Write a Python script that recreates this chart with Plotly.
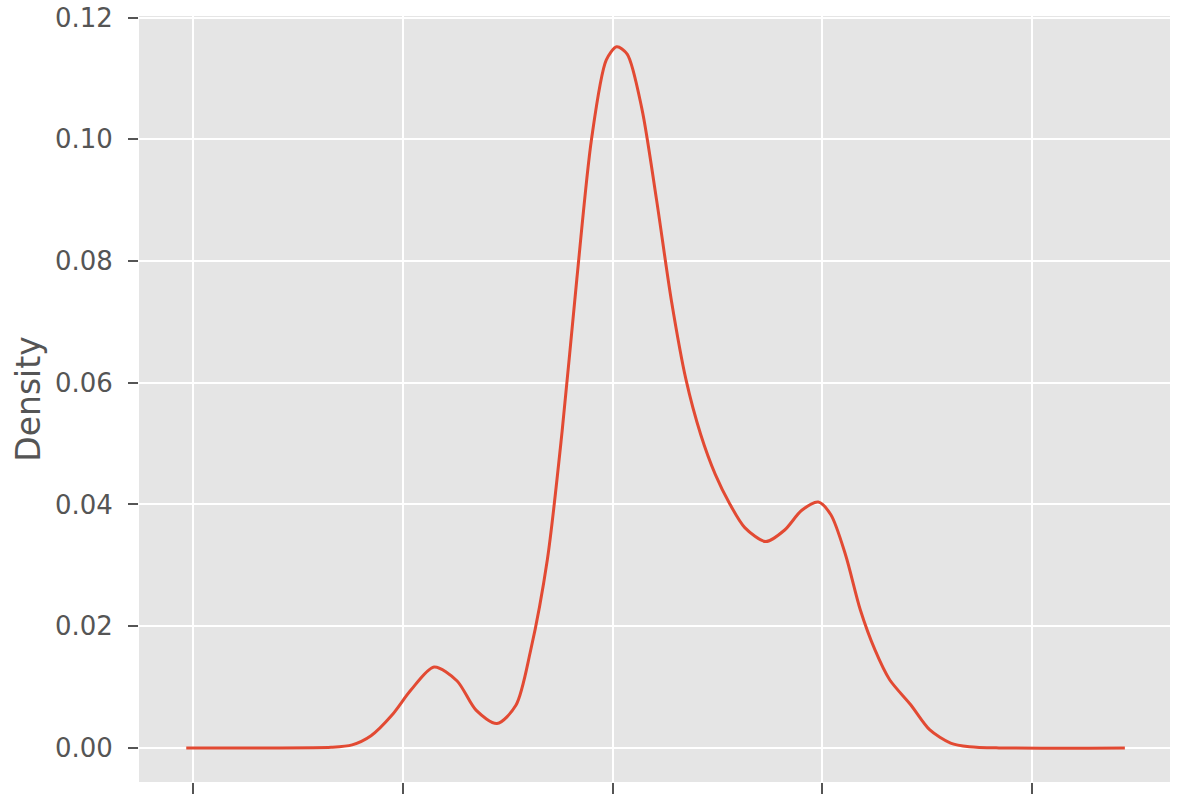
import plotly.graph_objects as go

# KDE curve points
x_vals = [-0.3, 2.9, 6.6, 7.6, 8.5, 9.5, 10.4, 11.5, 12.6, 13.5, 14.5, 15.4, 16.1, 16.9,
          17.6, 18.3, 19.0, 19.7, 20.2, 20.7, 21.4, 22.1, 22.8, 23.5, 24.2, 24.9, 25.6,
          26.3, 27.3, 28.2, 29.0, 29.8, 30.4, 31.1, 31.8, 32.5, 33.2, 34.2, 35.1, 36.1,
          37.0, 38.4, 44.4]
density = [0.0, 0.0, 0.0001, 0.0005, 0.002, 0.0054, 0.0095, 0.0133, 0.011, 0.0062, 0.004,
           0.007, 0.016, 0.031, 0.052, 0.077, 0.100, 0.113, 0.1152, 0.114, 0.105, 0.090,
           0.0736, 0.0605, 0.0515, 0.0449, 0.040, 0.0362, 0.0339, 0.0358, 0.039, 0.0404,
           0.0383, 0.0317, 0.0227, 0.0161, 0.0112, 0.0071, 0.003, 0.0008, 0.0002, 0.0, 0.0]

x_ticks = [0, 10, 20, 30, 40]
y_ticks = [0.00, 0.02, 0.04, 0.06, 0.08, 0.10, 0.12]
y_tick_labels = ["0.00", "0.02", "0.04", "0.06", "0.08", "0.10", "0.12"]

fig = go.Figure()
fig.add_trace(go.Scatter(x=x_vals, y=density, mode="lines",
                         line=dict(color="#E24A33", width=3, shape="spline", smoothing=0.8),
                         showlegend=False, hoverinfo="skip"))

font = dict(family="DejaVu Sans", size=26, color="#555555")
fig.update_layout(
    width=1184, height=794,
    margin=dict(l=139, r=14, t=16, b=12, autoexpand=False),
    paper_bgcolor="white", plot_bgcolor="#E5E5E5",
    font=font,
    xaxis=dict(range=[-2.55, 46.55], tickvals=x_ticks, showticklabels=False,
               ticks="outside", ticklen=12, tickwidth=1.5, tickcolor="#555555",
               showgrid=True, gridcolor="white", gridwidth=1.8, zeroline=False,
               showline=False, automargin=False),
    yaxis=dict(range=[-0.0056, 0.12025], tickvals=y_ticks, ticktext=y_tick_labels,
               ticks="outside", ticklen=10, tickwidth=1.5, tickcolor="#555555",
               ticklabelstandoff=10, ticklabeloverflow="allow",
               showgrid=True, gridcolor="white", gridwidth=1.8, zeroline=False,
               showline=False, tickfont=font, automargin=False,
               title=dict(text="Density", font=dict(family="DejaVu Sans", size=33, color="#555555"),
                          standoff=4)),
)
fig.write_html("out.html", config={"displayModeBar": False},
               post_script="document.body.style.margin='0';document.body.style.overflow='hidden';")
